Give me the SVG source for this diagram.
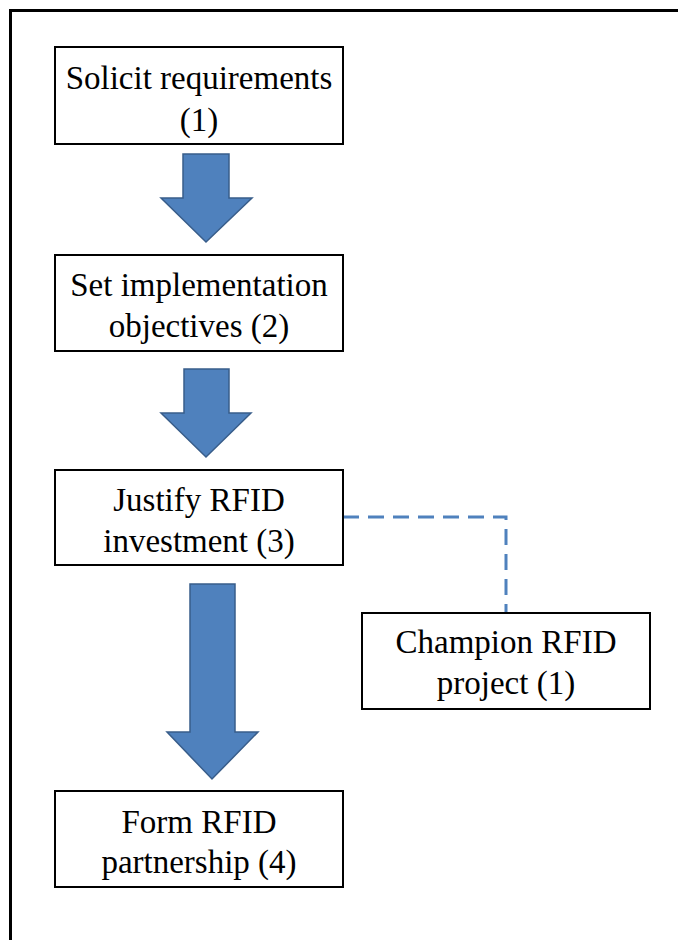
<svg xmlns="http://www.w3.org/2000/svg" width="678" height="940" viewBox="0 0 678 940">
  <style>
    .box { fill: #ffffff; stroke: #000000; stroke-width: 2; }
    .label { font-family: "Liberation Serif", "Times New Roman", serif; font-size: 33px; fill: #000000; text-anchor: middle; }
    .block { fill: #4F81BD; stroke: #385D8A; stroke-width: 1.5; stroke-linejoin: miter; }
    .dash { fill: none; stroke: #4F81BD; stroke-width: 3; stroke-dasharray: 16 9; }
  </style>

  <rect x="0" y="0" width="678" height="940" fill="#ffffff"/>
  <!-- frame: top and left edges only -->
  <path d="M10.5,940 V10.5 H678" fill="none" stroke="#000000" stroke-width="3"/>

  <g id="connectors">
    <polygon class="block" points="183,154 229,154 229,198 252,198 206,242 161,198 183,198"/>
    <polygon class="block" points="184,369 229,369 229,413 251,413 206,457 161,413 184,413"/>
    <polygon class="block" points="190,584 235,584 235,732 258,732 212,779 167,732 190,732"/>
    <path class="dash" d="M343,517 H506 V612"/>
  </g>

  <g id="solicit">
    <rect class="box" x="55" y="47" width="288" height="97"/>
    <text class="label" x="199" y="89">Solicit requirements</text>
    <text class="label" x="199" y="131">(1)</text>
  </g>

  <g id="objectives">
    <rect class="box" x="55" y="255" width="288" height="96"/>
    <text class="label" x="199" y="296">Set implementation</text>
    <text class="label" x="199" y="337">objectives (2)</text>
  </g>

  <g id="justify">
    <rect class="box" x="55" y="470" width="288" height="95"/>
    <text class="label" x="199" y="511">Justify RFID</text>
    <text class="label" x="199" y="552">investment (3)</text>
  </g>

  <g id="champion">
    <rect class="box" x="362" y="613" width="288" height="96"/>
    <text class="label" x="506" y="653">Champion RFID</text>
    <text class="label" x="506" y="694">project (1)</text>
  </g>

  <g id="partnership">
    <rect class="box" x="55" y="791" width="288" height="96"/>
    <text class="label" x="199" y="833">Form RFID</text>
    <text class="label" x="199" y="873">partnership (4)</text>
  </g>
</svg>
